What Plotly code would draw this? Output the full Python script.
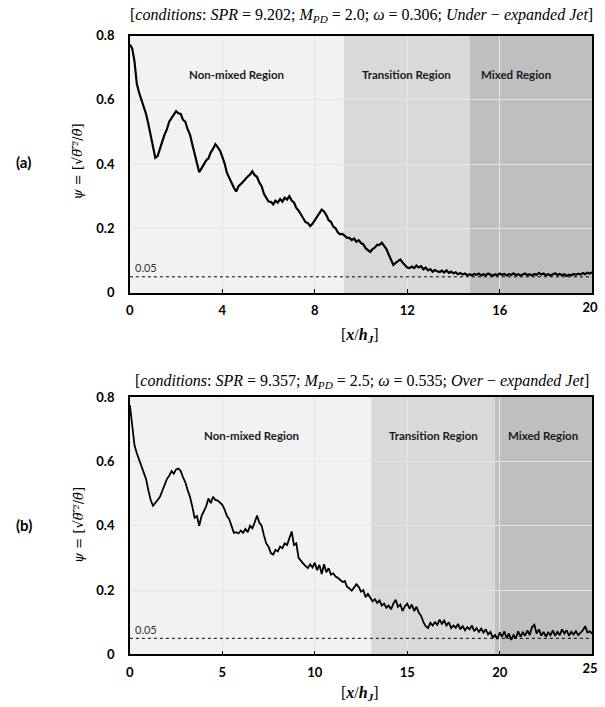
import plotly.graph_objects as go

# ---------------- data ----------------
# (a) sampled every 0.1 x/hJ from 0 to 20
psi_a = [
    0.772, 0.760, 0.720, 0.650, 0.622, 0.600, 0.580, 0.556, 0.525, 0.490,
    0.445, 0.420, 0.425, 0.452, 0.470, 0.492, 0.508, 0.532, 0.543, 0.552,
    0.565, 0.558, 0.556, 0.538, 0.532, 0.508, 0.492, 0.462, 0.432, 0.398,
    0.375, 0.387, 0.398, 0.412, 0.418, 0.437, 0.448, 0.462, 0.453, 0.442,
    0.423, 0.402, 0.373, 0.357, 0.338, 0.327, 0.315, 0.332, 0.338, 0.347,
    0.353, 0.362, 0.368, 0.378, 0.366, 0.361, 0.343, 0.332, 0.308, 0.297,
    0.284, 0.283, 0.275, 0.287, 0.281, 0.292, 0.284, 0.296, 0.290, 0.301,
    0.287, 0.281, 0.264, 0.256, 0.243, 0.234, 0.220, 0.217, 0.208, 0.215,
    0.226, 0.239, 0.248, 0.259, 0.253, 0.242, 0.226, 0.221, 0.206, 0.201,
    0.188, 0.182, 0.183, 0.176, 0.171, 0.171, 0.164, 0.169, 0.159, 0.164,
    0.155, 0.151, 0.139, 0.133, 0.127, 0.136, 0.141, 0.149, 0.149, 0.156,
    0.147, 0.136, 0.119, 0.101, 0.087, 0.093, 0.099, 0.104, 0.094, 0.086,
    0.079, 0.077, 0.082, 0.077, 0.085, 0.079, 0.083, 0.073, 0.079, 0.070,
    0.074, 0.066, 0.071, 0.067, 0.065, 0.069, 0.063, 0.070, 0.062, 0.066,
    0.061, 0.064, 0.058, 0.062, 0.057, 0.060, 0.055, 0.058, 0.054, 0.059,
    0.056, 0.060, 0.054, 0.058, 0.055, 0.060, 0.056, 0.053, 0.058, 0.055,
    0.060, 0.056, 0.059, 0.054, 0.058, 0.056, 0.061, 0.055, 0.058, 0.054,
    0.057, 0.060, 0.055, 0.058, 0.054, 0.059, 0.056, 0.062, 0.057, 0.060,
    0.055, 0.058, 0.054, 0.057, 0.061, 0.056, 0.059, 0.055, 0.058, 0.053,
    0.057, 0.055, 0.059, 0.056, 0.060, 0.057, 0.062, 0.058, 0.063, 0.060,
    0.064,
]
dx_a = 0.1

# (b) sampled every 0.125 x/hJ from 0 to 25
psi_b = [
    0.775, 0.720, 0.650, 0.625, 0.605, 0.590, 0.565, 0.545, 0.510, 0.480,
    0.462, 0.470, 0.480, 0.490, 0.510, 0.530, 0.545, 0.555, 0.570, 0.562,
    0.575, 0.578, 0.570, 0.550, 0.535, 0.510, 0.490, 0.460, 0.425, 0.430,
    0.400, 0.430, 0.445, 0.460, 0.485, 0.470, 0.490, 0.480, 0.478, 0.470,
    0.465, 0.450, 0.430, 0.420, 0.395, 0.378, 0.380, 0.376, 0.385, 0.378,
    0.390, 0.380, 0.400, 0.392, 0.410, 0.432, 0.410, 0.400, 0.370, 0.345,
    0.335, 0.315, 0.310, 0.325, 0.320, 0.335, 0.330, 0.345, 0.340, 0.360,
    0.382, 0.340, 0.345, 0.300, 0.290, 0.282, 0.275, 0.268, 0.280, 0.270,
    0.285, 0.262, 0.278, 0.250, 0.280, 0.255, 0.268, 0.248, 0.252, 0.242,
    0.238, 0.232, 0.225, 0.228, 0.210, 0.205, 0.198, 0.208, 0.218, 0.210,
    0.195, 0.200, 0.178, 0.188, 0.175, 0.165, 0.172, 0.160, 0.168, 0.152,
    0.158, 0.145, 0.152, 0.140, 0.158, 0.170, 0.148, 0.155, 0.135, 0.150,
    0.158, 0.142, 0.155, 0.135, 0.148, 0.130, 0.120, 0.100, 0.088, 0.082,
    0.098, 0.090, 0.100, 0.092, 0.108, 0.095, 0.105, 0.090, 0.100, 0.082,
    0.090, 0.083, 0.095, 0.078, 0.088, 0.075, 0.085, 0.078, 0.090, 0.072,
    0.082, 0.070, 0.080, 0.068, 0.078, 0.062, 0.070, 0.052, 0.060, 0.048,
    0.068, 0.055, 0.072, 0.050, 0.065, 0.045, 0.060, 0.050, 0.072, 0.055,
    0.068, 0.058, 0.075, 0.060, 0.085, 0.092, 0.065, 0.078, 0.058, 0.070,
    0.055, 0.068, 0.060, 0.075, 0.058, 0.070, 0.060, 0.078, 0.065, 0.075,
    0.058, 0.070, 0.062, 0.072, 0.060, 0.068, 0.075, 0.088, 0.068, 0.072,
    0.065,
]
dx_b = 0.125

# region boundaries (x/hJ)
regions_a = [0, 9.25, 14.7, 20]
regions_b = [0, 13.05, 19.75, 25]
region_names = ["Non-mixed Region", "Transition Region", "Mixed Region"]
label_x_a = [4.6, 11.95, 16.7]
label_x_b = [6.6, 16.4, 22.35]
threshold = 0.05
ticks_a = [0, 4, 8, 12, 16]
ticks_b = [0, 5, 10, 15, 20]
end_tick_a = 20
end_tick_b = 25

title_a = ("[<i>conditions</i>: <i>SPR</i> = 9.202; <i>M</i><sub><i>PD</i></sub> = 2.0; "
           "<i>ω</i> = 0.306; <i>Under</i> − <i>expanded Jet</i>]")
title_b = ("[<i>conditions</i>: <i>SPR</i> = 9.357; <i>M</i><sub><i>PD</i></sub> = 2.5; "
           "<i>ω</i> = 0.535; <i>Over</i> − <i>expanded Jet</i>]")

# ---------------- figure ----------------
W, H = 605, 707
region_colors = ["#f2f2f2", "#d9d9d9", "#bfbfbf"]
tick_font = dict(family="Lato, 'Open Sans', sans-serif", size=13, color="black", weight="bold")
serif = "'DejaVu Serif', 'Liberation Serif', serif"
serif2 = "'Liberation Serif', 'DejaVu Serif', serif"

fig = go.Figure()
fig.add_trace(go.Scatter(y=psi_a, x0=0, dx=dx_a, mode="lines",
                         line=dict(color="black", width=2.2), xaxis="x", yaxis="y",
                         showlegend=False))
fig.add_trace(go.Scatter(y=psi_b, x0=0, dx=dx_b, mode="lines",
                         line=dict(color="black", width=1.8), xaxis="x2", yaxis="y2",
                         showlegend=False))
# empty helper traces so the end-tick overlay axes are drawn
fig.add_trace(go.Scatter(x=[None], y=[None], xaxis="x3", yaxis="y", showlegend=False, hoverinfo="skip"))
fig.add_trace(go.Scatter(x=[None], y=[None], xaxis="x4", yaxis="y2", showlegend=False, hoverinfo="skip"))

def px_x(p):
    return p / W

def px_y(p):
    # vertical position in paper units for a target pixel row
    return 1 - ((p - 8.5) / 0.976) / H

dom_x = [px_x(128), px_x(598)]
dom_y_a = [px_y(293), px_y(36)]
dom_y_b = [px_y(654), px_y(397)]

common_x = dict(showline=True, linecolor="black", linewidth=1.6, mirror=True,
                ticks="inside", ticklen=4, tickcolor="black", tickwidth=1,
                showgrid=True, gridcolor="#e6e6e6", gridwidth=1, zeroline=False,
                tickfont=tick_font, ticklabelstandoff=5, tickmode="array")
end_x = dict(showline=False, ticks="", showgrid=False, zeroline=False,
             tickfont=tick_font, ticklabelstandoff=5, tickmode="array",
             ticklabelshift=-2, side="bottom")
common_y = dict(showline=True, linecolor="black", linewidth=1.6, mirror=True,
                ticks="", showgrid=True, gridcolor="#e6e6e6", gridwidth=1,
                zeroline=False, range=[0, 0.8], dtick=0.2,
                tickfont=tick_font, ticklabelstandoff=11)

fig.update_layout(
    width=W, height=H, margin=dict(l=0, r=0, t=0, b=0),
    paper_bgcolor="white", plot_bgcolor="white",
    xaxis=dict(common_x, domain=dom_x, range=[0, 20], tickvals=ticks_a,
               ticktext=[str(v) for v in ticks_a], anchor="y"),
    yaxis=dict(common_y, domain=dom_y_a, anchor="x"),
    xaxis2=dict(common_x, domain=dom_x, range=[0, 25], tickvals=ticks_b,
                ticktext=[str(v) for v in ticks_b], anchor="y2"),
    yaxis2=dict(common_y, domain=dom_y_b, anchor="x2"),
    xaxis3=dict(end_x, domain=dom_x, range=[0, 20], tickvals=[end_tick_a],
                ticktext=[str(end_tick_a)], anchor="y", overlaying="x"),
    xaxis4=dict(end_x, domain=dom_x, range=[0, 25], tickvals=[end_tick_b],
                ticktext=[str(end_tick_b)], anchor="y2", overlaying="x2"),
)

shapes = []
annotations = []
for (xr, yr, bounds, lx) in [("x", "y", regions_a, label_x_a), ("x2", "y2", regions_b, label_x_b)]:
    for i in range(3):
        shapes.append(dict(type="rect", xref=xr, yref=yr, x0=bounds[i], x1=bounds[i + 1],
                           y0=0, y1=0.8, fillcolor=region_colors[i], line=dict(width=0),
                           layer="below"))
        annotations.append(dict(xref=xr, yref=yr, x=lx[i], y=0.68, text="<b>" + region_names[i] + "</b>",
                                xanchor="center", yanchor="middle", showarrow=False,
                                font=dict(family="Lato, sans-serif", size=11.5, color="#1a1a1a")))
    shapes.append(dict(type="line", xref=xr, yref=yr, x0=0, x1=bounds[-1], y0=threshold, y1=threshold,
                       line=dict(color="black", width=1, dash="dot"), layer="above"))
    annotations.append(dict(xref=xr, yref=yr, x=0.12 * bounds[-1] / 20, y=0.078, text="0.05",
                            xanchor="left", yanchor="middle", showarrow=False,
                            font=dict(family="Lato, sans-serif", size=11, color="#333333")))

ylab = "<i>ψ</i> = [√<i>θ̅′̅²̅</i>/<i>θ̄</i>]"
for (ycen, tag, ttl, ttl_y, xl_y) in [(162, "(a)", title_a, 16, 336), (525, "(b)", title_b, 381, 693)]:
    annotations.append(dict(xref="paper", yref="paper", x=px_x(75), y=px_y(ycen), text=ylab,
                            textangle=-90, xanchor="center", yanchor="middle", showarrow=False,
                            font=dict(family=serif, size=13, color="black")))
    annotations.append(dict(xref="paper", yref="paper", x=px_x(20), y=px_y(ycen), text="<b>" + tag + "</b>",
                            xanchor="center", yanchor="middle",
                            showarrow=False, font=dict(family="Lato, sans-serif", size=15, color="black")))
    annotations.append(dict(xref="paper", yref="paper", x=px_x(364), y=px_y(ttl_y), text=ttl,
                            xanchor="center", yanchor="middle",
                            showarrow=False, font=dict(family=serif2, size=16, color="black")))
    annotations.append(dict(xref="paper", yref="paper", x=px_x(362), y=px_y(xl_y),
                            text="[<b><i>x</i></b>/<b><i>h</i></b><sub><b><i>J</i></b></sub>]",
                            xanchor="center", yanchor="middle",
                            showarrow=False, font=dict(family=serif2, size=16, color="black")))

fig.update_layout(shapes=shapes, annotations=annotations)
fig.write_html("out.html")
